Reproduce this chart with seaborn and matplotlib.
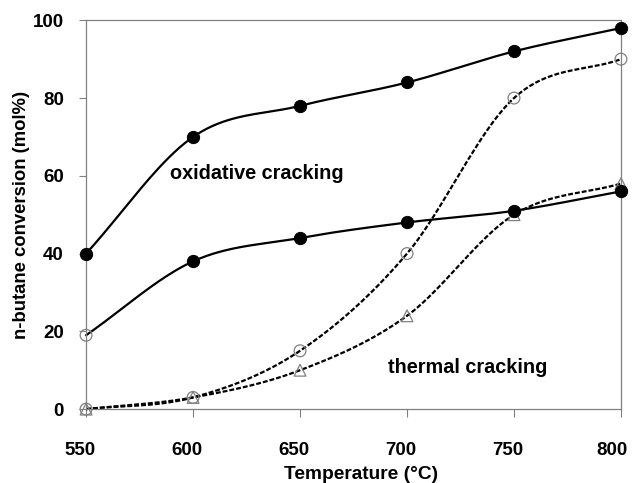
import numpy as np
import pandas as pd
import matplotlib
matplotlib.use("Agg")
import matplotlib.pyplot as plt
import matplotlib.transforms as mtransforms
import seaborn as sns

temperature = [550, 600, 650, 700, 750, 800]
oxidative_high = [40, 70, 78, 84, 92, 98]
oxidative_low = [19, 38, 44, 48, 51, 56]
thermal_circle = [0, 3, 15, 40, 80, 90]
thermal_triangle = [0, 3, 10, 24, 50, 58]
x_ticks = [550, 600, 650, 700, 750, 800]
y_ticks = [0, 20, 40, 60, 80, 100]


def smooth(xs, ys, n=40):
    """Catmull-Rom curve through the points (spreadsheet-style smoothed line)."""
    x = np.asarray(xs, float)
    y = np.asarray(ys, float)
    px = np.concatenate([[2 * x[0] - x[1]], x, [2 * x[-1] - x[-2]]])
    py = np.concatenate([[2 * y[0] - y[1]], y, [2 * y[-1] - y[-2]]])
    outx, outy = [], []
    for i in range(1, len(px) - 2):
        t = np.linspace(0, 1, n, endpoint=(i == len(px) - 3))
        for arr, out in ((px, outx), (py, outy)):
            p0, p1, p2, p3 = arr[i - 1], arr[i], arr[i + 1], arr[i + 2]
            out.extend(0.5 * ((2 * p1) + (-p0 + p2) * t
                              + (2 * p0 - 5 * p1 + 4 * p2 - p3) * t ** 2
                              + (-p0 + 3 * p1 - 3 * p2 + p3) * t ** 3))
    return pd.DataFrame({"T": outx, "conv": outy})


sns.set_theme(style="white")
plt.rcParams["font.family"] = ["Liberation Sans", "DejaVu Sans"]
plt.rcParams["text.color"] = "black"
plt.rcParams["axes.labelcolor"] = "black"

fig, ax = plt.subplots(figsize=(6.33, 4.83), dpi=100)
fig.subplots_adjust(left=0.136, right=0.981, top=0.958, bottom=0.153)

grey = "#808080"
dash = (0, (2.2, 0.9))

# smoothed curves
sns.lineplot(data=smooth(temperature, oxidative_high), x="T", y="conv", ax=ax,
             color="black", lw=1.6, sort=False, estimator=None)
sns.lineplot(data=smooth(temperature, oxidative_low), x="T", y="conv", ax=ax,
             color="black", lw=1.6, sort=False, estimator=None)
sns.lineplot(data=smooth(temperature, thermal_circle), x="T", y="conv", ax=ax,
             color="black", lw=1.6, sort=False, estimator=None, linestyle=dash)
sns.lineplot(data=smooth(temperature, thermal_triangle), x="T", y="conv", ax=ax,
             color="black", lw=1.6, sort=False, estimator=None, linestyle=dash)

# markers
sns.scatterplot(x=temperature, y=thermal_circle, ax=ax, marker="o", s=72,
                facecolor="none", edgecolor=grey, linewidth=0.9, zorder=5)
sns.scatterplot(x=temperature, y=thermal_triangle, ax=ax, marker="^", s=72,
                facecolor="none", edgecolor=grey, linewidth=0.9, zorder=5)
sns.scatterplot(x=temperature, y=oxidative_high, ax=ax, marker="o", s=78,
                color="black", edgecolor="black", zorder=6)
sns.scatterplot(x=temperature[1:], y=oxidative_low[1:], ax=ax, marker="o", s=78,
                color="black", edgecolor="black", zorder=6)
sns.scatterplot(x=temperature[:1], y=oxidative_low[:1], ax=ax, marker="o", s=72,
                facecolor="none", edgecolor=grey, linewidth=0.9, zorder=6)

ax.set_xlim(550, 800)
ax.set_ylim(0, 100)
ax.set_xticks(x_ticks)
ax.set_yticks(y_ticks)
ax.set_xticklabels([str(v) for v in x_ticks], fontsize=13.5, fontweight="bold")
ax.set_yticklabels([str(v) for v in y_ticks], fontsize=13.5, fontweight="bold")
ax.tick_params(axis="x", direction="out", length=6, width=0.8, color=grey,
               labelcolor="black", pad=17.5, bottom=True)
ax.tick_params(axis="y", direction="out", length=5, width=0.8, color=grey,
               labelcolor="black", pad=11, left=True)
xlabels = ax.get_xticklabels()
for i, lab in enumerate(xlabels):
    shift = -9 if i == len(xlabels) - 1 else -6
    lab.set_transform(lab.get_transform() +
                      mtransforms.ScaledTranslation(shift / 100, 0, fig.dpi_scale_trans))
for side in ax.spines.values():
    side.set_color(grey)
    side.set_linewidth(0.9)
for pt in ax.collections:
    pt.set_clip_on(False)
for ln in ax.lines:
    ln.set_clip_on(False)

ax.set_xlabel("Temperature (°C)", fontsize=13.8, fontweight="bold", labelpad=5,
              color="black")
ax.xaxis.label.set_x(0.514)
ax.set_ylabel("n-butane conversion (mol%)", fontsize=13.3, fontweight="bold",
              labelpad=2, color="black")

ax.text(589, 60.6, "oxidative cracking", fontsize=14.3, fontweight="bold",
        ha="left", va="center", color="black")
ax.text(691, 10.6, "thermal cracking", fontsize=14.3, fontweight="bold",
        ha="left", va="center", color="black")

fig.savefig("out.png", dpi=100)
